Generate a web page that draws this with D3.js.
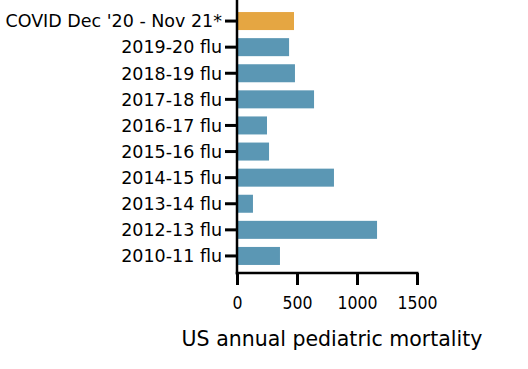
<!DOCTYPE html>
<html><head><meta charset="utf-8">
<script src="https://cdn.jsdelivr.net/npm/d3@7"></script>
<style>
html,body{margin:0;padding:0;background:#fff;}
svg text{font-family:"DejaVu Sans",sans-serif;fill:#000;}
</style></head>
<body><svg id="c" width="528" height="369"></svg>
<script>
const categories = ["COVID Dec '20 - Nov 21*","2019-20 flu","2018-19 flu","2017-18 flu","2016-17 flu","2015-16 flu","2014-15 flu","2013-14 flu","2012-13 flu","2010-11 flu"];
const values = [475, 434, 483, 642, 250, 267, 808, 133, 1167, 358];
const barColors = ["#E5A642","#5B97B4","#5B97B4","#5B97B4","#5B97B4","#5B97B4","#5B97B4","#5B97B4","#5B97B4","#5B97B4"];
const xTicks = [0, 500, 1000, 1500];
const xTitle = "US annual pediatric mortality";

const svg = d3.select("#c");
const x = d3.scaleLinear().domain([0,1500]).range([237,417]);
const y = d3.scaleBand().domain(categories).range([8,269]).paddingInner(0.31).paddingOuter(0.155);

svg.selectAll("rect.bar").data(values).join("rect")
  .attr("class","bar")
  .attr("x", x(0)+1)
  .attr("y",(d,i)=>y(categories[i]))
  .attr("height", y.bandwidth())
  .attr("width", d=>x(d)-x(0)-1)
  .attr("fill",(d,i)=>barColors[i]);

// y axis
const yAxis = svg.append("g").attr("transform","translate(237,0)")
  .call(d3.axisLeft(y).tickSize(12).tickPadding(3));
yAxis.select(".domain").remove();
yAxis.selectAll(".tick line").attr("stroke","#000").attr("stroke-width",3);
yAxis.selectAll(".tick text").attr("font-size",17.5).attr("dy","0.36em");
svg.append("line").attr("x1",237).attr("x2",237).attr("y1",0).attr("y2",274.5)
  .attr("stroke","#000").attr("stroke-width",2.5);

// x axis
const xAxis = svg.append("g").attr("transform","translate(0,273)")
  .call(d3.axisBottom(x).tickValues(xTicks).tickSize(12).tickPadding(12).tickFormat(d3.format("d")));
xAxis.select(".domain").remove();
xAxis.selectAll(".tick line").attr("stroke","#000").attr("stroke-width",3);
xAxis.selectAll(".tick text").attr("font-size",17.5)
  .style("font-family","'DejaVu Sans Condensed','DejaVu Sans',sans-serif").attr("dy","0.71em");
svg.append("line").attr("x1",235.75).attr("x2",418.5).attr("y1",273).attr("y2",273)
  .attr("stroke","#000").attr("stroke-width",2.5);

svg.append("text").attr("x",332).attr("y",346).attr("text-anchor","middle")
  .attr("font-size",20.5).text(xTitle);
</script></body></html>
